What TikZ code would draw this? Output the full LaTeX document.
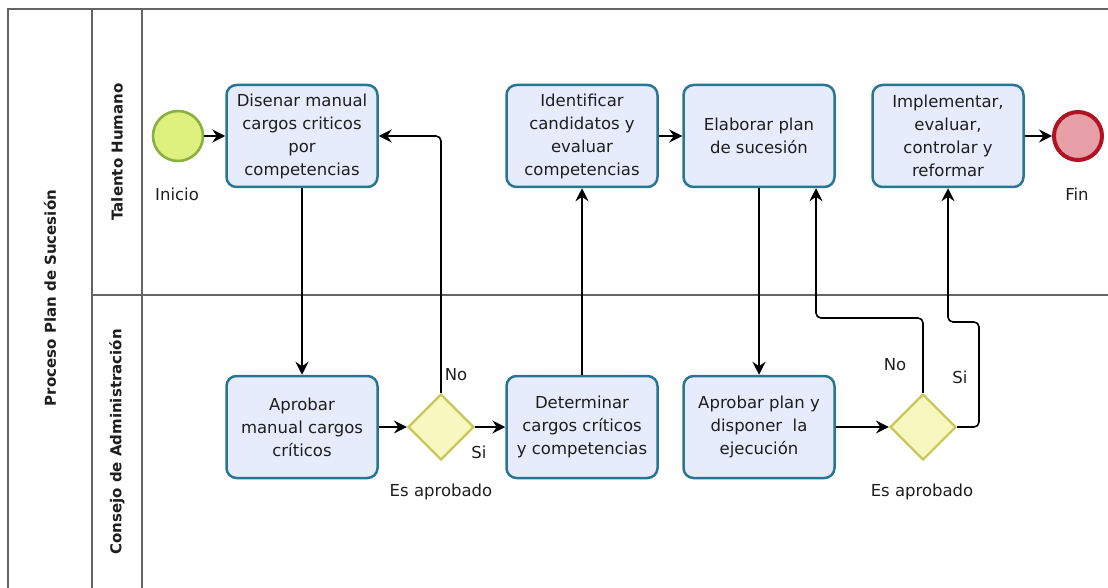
\documentclass[tikz,border=0pt]{standalone}
\usepackage{fontspec}
\setmainfont{DejaVu Sans}
\usetikzlibrary{shapes.geometric,arrows.meta}
\definecolor{taskfill}{RGB}{230,236,251}
\definecolor{taskline}{RGB}{40,118,148}
\definecolor{startfill}{RGB}{222,240,125}
\definecolor{startline}{RGB}{138,176,64}
\definecolor{endfill}{RGB}{232,160,168}
\definecolor{endline}{RGB}{176,20,36}
\definecolor{gwfill}{RGB}{248,247,192}
\definecolor{gwline}{RGB}{200,200,90}
\definecolor{frameline}{RGB}{100,100,100}
\definecolor{txt}{RGB}{30,30,30}
\tikzset{
  task/.style={draw=taskline, fill=taskfill, line width=2.5pt, rounded corners=10pt,
    minimum width=151pt, minimum height=102pt, inner sep=2pt, align=center,
    text=txt, font=\fontsize{16.5}{23}\selectfont},
  gateway/.style={diamond, draw=gwline, fill=gwfill, line width=2.2pt, aspect=1,
    minimum size=66pt, inner sep=0pt},
  startev/.style={circle, draw=startline, fill=startfill, line width=2.6pt, minimum size=50pt, inner sep=0pt},
  endev/.style={circle, draw=endline, fill=endfill, line width=4pt, minimum size=48pt, inner sep=0pt},
  lbl/.style={text=txt, font=\fontsize{16.5}{20}\selectfont, inner sep=0pt},
  lanelbl/.style={text=txt, font=\fontsize{15}{18}\selectfont\bfseries, rotate=90, inner sep=0pt},
  arr/.style={draw=black, line width=1.6pt, -{Stealth[length=13pt,width=13pt,inset=4.5pt]}},
  frame/.style={draw=frameline, line width=1.3pt}
}
\begin{document}
\begin{tikzpicture}[x=1pt,y=-1pt]
  \useasboundingbox (0,0) rectangle (1108,588);
  % pool and lanes
  \draw[frame] (1108,9) -- (8,9) -- (8,588);
  \draw[frame] (92,9) -- (92,588);
  \draw[frame] (142,9) -- (142,588);
  \draw[frame] (92,295) -- (1108,295);
  \node[lanelbl] (pool) at (50,298) {Proceso Plan de Sucesión};
  \node[lanelbl] (lane1) at (117,152) {Talento Humano};
  \node[lanelbl] (lane2) at (117,442) {Consejo de Administración};

  % events
  \node[startev] (start) at (178,136) {};
  \node[lbl] (startlbl) at (177,194) {Inicio};
  \node[endev] (end) at (1078,136) {};
  \node[lbl] (endlbl) at (1077,194) {Fin};

  % tasks, upper lane
  \node[task] (t1) at (302,136) {Disenar manual\\cargos criticos\\por\\competencias};
  \node[task] (t2) at (582,136) {Identificar\\candidatos y\\evaluar\\competencias};
  \node[task] (t3) at (759,136) {Elaborar plan\\de sucesión};
  \node[task] (t4) at (948,136) {Implementar,\\evaluar,\\controlar y\\reformar};

  % tasks, lower lane
  \node[task] (t5) at (302,427) {Aprobar\\manual cargos\\críticos};
  \node[task] (t6) at (582,427) {Determinar\\cargos críticos\\y competencias};
  \node[task] (t7) at (759,427) {Aprobar plan y\\disponer\ \ la\\ejecución};

  % gateways
  \node[gateway] (gw1) at (441,427) {};
  \node[lbl] (gw1lbl) at (441,492) {Es aprobado};
  \node[gateway] (gw2) at (923,427) {};
  \node[lbl] (gw2lbl) at (922,492) {Es aprobado};

  % bend points of the return flows
  \coordinate (c1) at (816,318);
  \coordinate (c2) at (979,322);

  % sequence flows
  \draw[arr] (start) -- (t1);
  \draw[arr] (t1) -- (t5);
  \draw[arr] (t5) -- (gw1);
  \draw[arr] (gw1) -- (t6);
  \draw[arr, rounded corners=5pt] (gw1.north) |- (t1.east);
  \draw[arr] (t6) -- (t2);
  \draw[arr] (t2) -- (t3);
  \draw[arr] (t3.south) -- (t7.north);
  \draw[arr] (t7) -- (gw2);
  \draw[arr, rounded corners=5pt] (gw2.north) |- (c1) -- (c1 |- t3.south);
  \draw[arr, rounded corners=5pt] (gw2.east) -| (c2) -| (t4.south);
  \draw[arr] (t4) -- (end);

  % flow labels
  \node[lbl] (no1) at (456,375) {No};
  \node[lbl] (si1) at (479,452) {Si};
  \node[lbl] (no2) at (895,365) {No};
  \node[lbl] (si2) at (960,377) {Si};
\end{tikzpicture}
\end{document}
